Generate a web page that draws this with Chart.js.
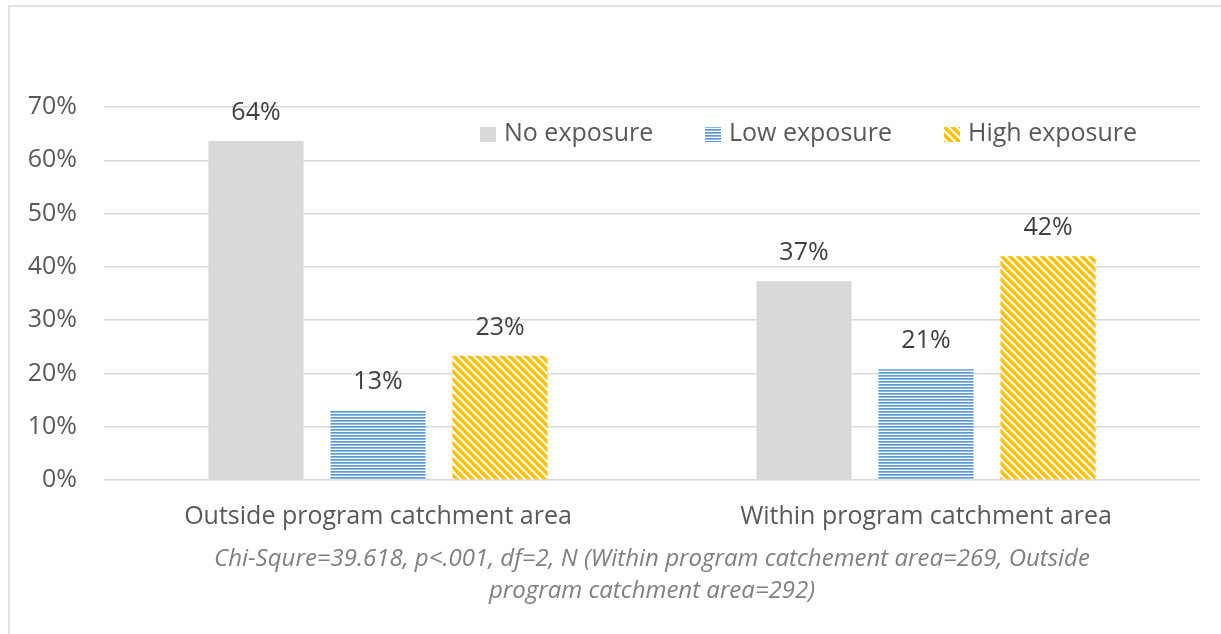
<!DOCTYPE html>
<html>
<head>
<meta charset="utf-8">
<script src="https://cdn.jsdelivr.net/npm/chart.js@4.4.1/dist/chart.umd.min.js"></script>
<style>
html,body{margin:0;padding:0;background:#fff;}
#wrap{position:relative;width:1221px;height:634px;}
</style>
</head>
<body>
<div id="wrap"><canvas id="c" width="1221" height="634"></canvas></div>
<script>
const categories = ["Outside program catchment area", "Within program catchment area"];
const seriesNames = ["No exposure", "Low exposure", "High exposure"];
const noExposure = [63.6, 37.3];
const lowExposure = [13.1, 20.8];
const highExposure = [23.3, 42.0];
const valueLabels = [["64%", "37%"], ["13%", "21%"], ["23%", "42%"]];
const footnoteLines = ["Chi-Squre=39.618, p<.001, df=2, N (Within program catchement area=269, Outside", "program catchment area=292)"];

function makeBluePattern() {
  const c = document.createElement('canvas');
  c.width = 4; c.height = 3;
  const x = c.getContext('2d');
  x.fillStyle = '#ffffff'; x.fillRect(0,0,4,3);
  x.fillStyle = '#5b9bd5'; x.fillRect(0,0,4,1);
  x.fillStyle = '#8ab8e2'; x.fillRect(0,1,4,1);
  return x.createPattern(c, 'repeat');
}
function makeYellowPattern() {
  const c = document.createElement('canvas');
  c.width = 8; c.height = 8;
  const x = c.getContext('2d');
  const img = x.createImageData(8,8);
  for (let yy=0; yy<8; yy++) for (let xx=0; xx<8; xx++) {
    const k = ((xx - yy) % 8 + 8) % 8;
    const i = (yy*8+xx)*4;
    let r=255,g=255,b=255;
    if (k < 4) { r=255; g=192; b=0; }
    else if (k===4 || k===7) { r=255; g=222; b=130; }
    img.data[i]=r; img.data[i+1]=g; img.data[i+2]=b; img.data[i+3]=255;
  }
  x.putImageData(img,0,0);
  return x.createPattern(c, 'repeat');
}
const bluePat = makeBluePattern();
const yellowPat = makeYellowPattern();
const fills = ['#d9d9d9', bluePat, yellowPat];

const framePlugin = {
  id: 'frame',
  beforeDraw(chart) {
    const ctx = chart.ctx;
    ctx.save();
    ctx.strokeStyle = '#d9d9d9';
    ctx.lineWidth = 1.5;
    ctx.beginPath();
    ctx.moveTo(9, 640); ctx.lineTo(9, 6); ctx.lineTo(1230, 6);
    ctx.stroke();
    ctx.restore();
  }
};

const labelPlugin = {
  id: 'valLabels',
  afterDatasetsDraw(chart) {
    const ctx = chart.ctx;
    ctx.save();
    ctx.font = '25px "Open Sans"';
    ctx.fillStyle = '#404040';
    ctx.textAlign = 'center';
    ctx.textBaseline = 'middle';
    chart.data.datasets.forEach((ds, di) => {
      const meta = chart.getDatasetMeta(di);
      meta.data.forEach((bar, i) => {
        ctx.fillText(valueLabels[di][i], bar.x, bar.y - 28);
      });
    });
    ctx.restore();
  }
};

const legendPlugin = {
  id: 'customLegend',
  afterDraw(chart) {
    const ctx = chart.ctx;
    const y = 134;
    const starts = [480, 705, 944];
    ctx.save();
    ctx.font = '25px "Open Sans"';
    ctx.textBaseline = 'middle';
    ctx.textAlign = 'left';
    chart.data.datasets.forEach((ds, di) => {
      const x0 = starts[di];
      ctx.fillStyle = ds.backgroundColor;
      ctx.fillRect(x0, y - 7, 16, 15);
      ctx.fillStyle = '#595959';
      ctx.fillText(ds.label, x0 + 24, y);
    });
    ctx.restore();
  }
};

const footnotePlugin = {
  id: 'footnote',
  afterDraw(chart) {
    const ctx = chart.ctx;
    const a = chart.chartArea;
    const cx = (a.left + a.right) / 2;
    const ys = [559, 591];
    ctx.save();
    ctx.font = 'italic 24px "Open Sans"';
    ctx.fillStyle = '#7f7f7f';
    ctx.textAlign = 'center';
    ctx.textBaseline = 'middle';
    footnoteLines.forEach((t, i) => ctx.fillText(t, cx, ys[i]));
    ctx.restore();
  }
};

new Chart(document.getElementById('c'), {
  type: 'bar',
  data: {
    labels: categories,
    datasets: [
      { label: seriesNames[0], data: noExposure, backgroundColor: fills[0] },
      { label: seriesNames[1], data: lowExposure, backgroundColor: fills[1] },
      { label: seriesNames[2], data: highExposure, backgroundColor: fills[2] }
    ]
  },
  options: {
    responsive: false,
    animation: false,
    devicePixelRatio: 1,
    layout: { padding: { left: 20, right: 21, top: 107, bottom: 88 } },
    datasets: { bar: { categoryPercentage: 0.668, barPercentage: 0.78 } },
    scales: {
      x: {
        grid: { display: false },
        border: { display: false },
        ticks: { color: '#595959', font: { family: 'Open Sans', size: 25 }, padding: 14 }
      },
      y: {
        min: 0, max: 70,
        afterFit(s) { s.width = 84; },
        grid: { color: '#d9d9d9', lineWidth: 1.5, drawTicks: false },
        border: { display: false },
        ticks: { stepSize: 10, color: '#595959', font: { family: 'Open Sans', size: 25 }, padding: 27,
          callback: v => v + '%' }
      }
    },
    plugins: {
      legend: { display: false },
      tooltip: { enabled: false },
      title: { display: false }
    }
  },
  plugins: [framePlugin, labelPlugin, legendPlugin, footnotePlugin]
});
</script>
</body>
</html>
